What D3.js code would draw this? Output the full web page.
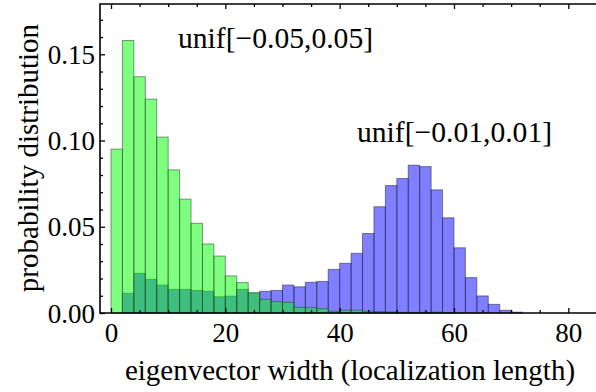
<!DOCTYPE html>
<html>
<head>
<meta charset="utf-8">
<script src="https://cdn.jsdelivr.net/npm/d3@7"></script>
<style>
  html, body { margin: 0; padding: 0; background: #fff; }
  svg { display: block; }
  text { font-family: "Liberation Serif", "DejaVu Serif", serif; fill: #000; }
</style>
</head>
<body>
<svg id="chart" width="596" height="392"></svg>
<script>
// Histogram bins: left edge of each 2-unit bin of eigenvector width
const binStarts = [0, 2, 4, 6, 8, 10, 12, 14, 16, 18, 20, 22, 24, 26, 28, 30, 32, 34,
                   36, 38, 40, 42, 44, 46, 48, 50, 52, 54, 56, 58, 60, 62, 64, 66, 68, 70];
const binWidth = 2;

// probability per bin, disorder unif[-0.05,0.05]
const wideDisorder = [0.095, 0.158, 0.137, 0.124, 0.102, 0.083, 0.066, 0.052, 0.040, 0.033,
                      0.0215, 0.0176, 0.0118, 0.0079, 0.0066, 0.0062, 0.0033, 0.0031, 0.0025, 0.0010,
                      0.0016, 0.0016, 0.0010, 0.0008, 0.0006, 0.0004, 0.0003, 0.0003, 0.0005, 0.0002,
                      0, 0, 0, 0, 0, 0];

// probability per bin, disorder unif[-0.01,0.01]
const narrowDisorder = [0, 0.0114, 0.023, 0.0195, 0.0162, 0.0137, 0.0137, 0.0131, 0.0126, 0.0094,
                        0.0098, 0.0137, 0.0115, 0.0126, 0.0131, 0.0162, 0.0152, 0.0178, 0.0183, 0.0253,
                        0.0288, 0.0346, 0.0461, 0.0616, 0.0739, 0.0780, 0.0857, 0.0849, 0.0714, 0.0552,
                        0.0378, 0.0205, 0.0099, 0.0050, 0.0016, 0.0005];

const xMajorTicks = [0, 20, 40, 60, 80];
const xMinorTicks = [5, 10, 15, 25, 30, 35, 45, 50, 55, 65, 70, 75, 85];
const yMajorTicks = [0.00, 0.05, 0.10, 0.15];
const yMinorTicks = [0.01, 0.02, 0.03, 0.04, 0.06, 0.07, 0.08, 0.09, 0.11, 0.12, 0.13, 0.14, 0.16, 0.17];

const svg = d3.select("#chart");

const frame = { left: 100, top: 4, bottom: 313, right: 600 };

const x = d3.scaleLinear().domain([0, 80]).range([111, 568.3]);
const y = d3.scaleLinear().domain([0, 0.15]).range([313, 54.3]);

const fmtY = d3.format(".2f");

// bars
function drawBars(values, fillColor, edgeColor, cls) {
  svg.append("g").attr("class", cls)
    .selectAll("rect")
    .data(binStarts.map((s, i) => ({ s, v: values[i] })).filter(d => d.v > 0))
    .join("rect")
    .attr("x", d => x(d.s))
    .attr("width", d => x(d.s + binWidth) - x(d.s))
    .attr("y", d => y(d.v))
    .attr("height", d => y(0) - y(d.v))
    .attr("fill", fillColor)
    .attr("fill-opacity", 0.5)
    .attr("stroke", edgeColor)
    .attr("stroke-opacity", 0.55)
    .attr("stroke-width", 1);
}

drawBars(narrowDisorder, "rgb(0,0,255)", "rgb(40,40,70)", "bars-narrow");
drawBars(wideDisorder, "rgb(0,255,0)", "rgb(40,70,40)", "bars-wide");

// frame axes
const tickFont = 27;

const gBottom = svg.append("g").attr("transform", `translate(0,${frame.bottom})`)
  .call(d3.axisBottom(x).tickValues(xMajorTicks).tickSize(-5).tickSizeOuter(0).tickFormat(d3.format("d")));
gBottom.selectAll(".tick text").attr("y", 0).attr("dy", 29).style("font-size", tickFont + "px")
  .style("font-family", "Liberation Serif");
svg.append("g").attr("transform", `translate(0,${frame.bottom})`)
  .call(d3.axisBottom(x).tickValues(xMinorTicks).tickSize(-3).tickSizeOuter(0).tickFormat(""));

svg.append("g").attr("transform", `translate(0,${frame.top})`)
  .call(d3.axisTop(x).tickValues(xMajorTicks).tickSize(-5).tickSizeOuter(0).tickFormat(""));
svg.append("g").attr("transform", `translate(0,${frame.top})`)
  .call(d3.axisTop(x).tickValues(xMinorTicks).tickSize(-3).tickSizeOuter(0).tickFormat(""));

const gLeft = svg.append("g").attr("transform", `translate(${frame.left},0)`)
  .call(d3.axisLeft(y).tickValues(yMajorTicks).tickSize(-5).tickSizeOuter(0).tickFormat(fmtY));
gLeft.selectAll(".tick text").attr("x", -5).attr("dy", "0.34em").style("font-size", tickFont + "px")
  .style("font-family", "Liberation Serif");
svg.append("g").attr("transform", `translate(${frame.left},0)`)
  .call(d3.axisLeft(y).tickValues(yMinorTicks).tickSize(-3).tickSizeOuter(0).tickFormat(""));

svg.selectAll(".domain").remove();
svg.selectAll(".tick line").attr("stroke", "#000").attr("stroke-width", 1.3);

// frame lines
svg.append("path")
  .attr("d", `M${frame.right},${frame.top}H${frame.left}V${frame.bottom}H${frame.right}`)
  .attr("fill", "none").attr("stroke", "#000").attr("stroke-width", 1.6);

// axis titles
svg.append("text")
  .attr("x", 350).attr("y", 380)
  .attr("text-anchor", "middle")
  .style("font-size", "29px")
  .text("eigenvector width (localization length)");

svg.append("text")
  .attr("transform", "translate(38,158) rotate(-90)")
  .attr("text-anchor", "middle")
  .style("font-size", "29px")
  .text("probability distribution");

// series annotations
svg.append("text").attr("x", 178).attr("y", 48)
  .style("font-size", "29.6px")
  .text("unif[\u22120.05,0.05]");
svg.append("text").attr("x", 357).attr("y", 142)
  .style("font-size", "29.6px")
  .text("unif[\u22120.01,0.01]");
</script>
</body>
</html>
